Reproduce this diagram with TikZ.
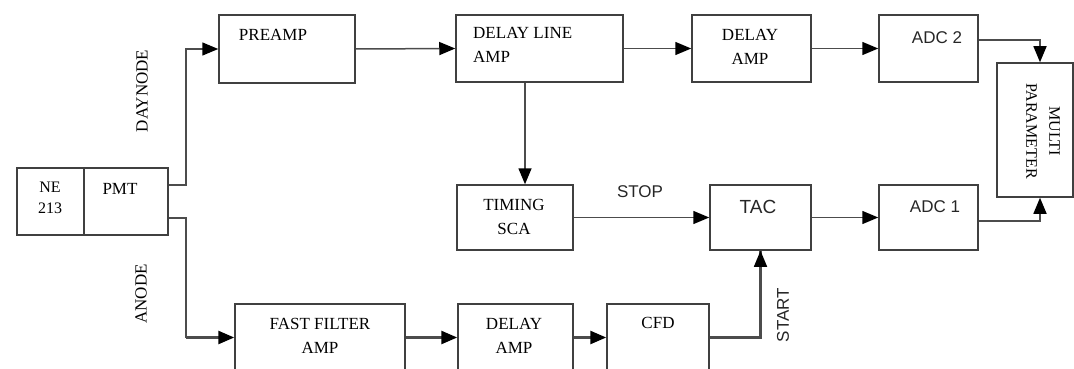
\documentclass[tikz,border=0pt]{standalone}
\usepackage{fontspec}
\setmainfont{Liberation Serif}
\setsansfont{Liberation Sans}
\usetikzlibrary{arrows.meta}
\begin{document}
\begin{tikzpicture}[x=1pt,y=-1pt,
  box/.style={draw=black!75, line width=1.5pt, rectangle, inner sep=0pt, minimum height=67pt},
  lbl/.style={text=black, inner sep=0pt, font=\fontsize{17}{24}\selectfont},
  slbl/.style={text=black!85, inner sep=0pt, font=\sffamily\fontsize{17}{24}\selectfont},
  wire/.style={draw=black!70, line width=1.5pt},
  thick wire/.style={draw=black!70, line width=2.6pt},
  arr/.style={-{Triangle[length=16pt,width=13pt,color=black]}}
]
\useasboundingbox (0,0) rectangle (1074,369);
\clip (0,0) rectangle (1074,369);

% boxes
\node[box, minimum width=67pt] (ne) at (50.5,201.5) {};
\node[box, minimum width=84pt] (pmt) at (126,201.5) {};
\node[box, minimum width=136pt, minimum height=68pt] (preamp) at (287,49) {};
\node[box, minimum width=167pt] (dla) at (539.5,48.5) {};
\node[box, minimum width=119pt] (damp) at (751.5,48.5) {};
\node[box, minimum width=99pt] (adctwo) at (928.5,48.5) {};
\node[box, minimum width=76pt, minimum height=134pt] (multi) at (1035,130) {};
\node[box, minimum width=116pt, minimum height=65pt] (sca) at (515,217.5) {};
\node[box, minimum width=101pt, minimum height=65pt] (tac) at (760.5,217.5) {};
\node[box, minimum width=99pt, minimum height=65pt] (adcone) at (928.5,217.5) {};
\node[box, minimum width=170pt] (ffa) at (320,337.5) {};
\node[box, minimum width=115pt] (damptwo) at (515.5,337.5) {};
\node[box, minimum width=102pt] (cfd) at (658,337.5) {};

% texts
\node[lbl, font=\fontsize{16}{21}\selectfont, align=center] (tne) at (50,198) {NE\\213};
\node[lbl] (tpmt) at (120,189) {PMT};
\node[lbl] (tpre) at (273,35) {PREAMP};
\node[lbl, align=left, anchor=west] (tdla) at (473,45) {DELAY LINE\\AMP};
\node[lbl, align=center] (tdamp) at (750,47) {DELAY\\AMP};
\node[slbl] (tadctwo) at (937,38) {ADC 2};
\node[lbl, align=center, rotate=-90, font=\fontsize{16}{23}\selectfont] (tmulti) at (1043,131) {MULTI\\PARAMETER};
\node[lbl, align=center] (tsca) at (514,217) {TIMING\\SCA};
\node[slbl] (tstop) at (640,192) {STOP};
\node[slbl, font=\sffamily\fontsize{19}{24}\selectfont] (ttac) at (758,207) {TAC};
\node[slbl] (tadcone) at (935,207) {ADC 1};
\node[lbl, align=center] (tffa) at (320,336) {FAST FILTER\\AMP};
\node[lbl, align=center] (tdamptwo) at (514,336) {DELAY\\AMP};
\node[lbl] (tcfd) at (658,323) {CFD};
\node[slbl, rotate=90] (tstart) at (783,315) {START};
\node[lbl, rotate=90] (tdyn) at (142,91) {DAYNODE};
\node[lbl, rotate=90] (tano) at (141,294) {ANODE};

% connectors
\draw[wire, arr] ([yshift=16.5pt]pmt.east) -- ++(17,0) |- (preamp.west);
\draw[wire] ([yshift=-16.5pt]pmt.east) -- ++(17,0) coordinate (pl) -- (pl |- ffa.west);
\draw[thick wire, arr] (pl |- ffa.west) -- (ffa.west);
\draw[wire, arr] (preamp.east) -- (dla.west);
\draw[wire, arr] (dla.east) -- (damp.west);
\draw[wire, arr] (damp.east) -- (adctwo.west);
\draw[wire, arr] ([yshift=8.5pt]adctwo.east) -| ([xshift=5pt]multi.north);
\draw[wire, arr] ([xshift=-14.5pt]dla.south) -- ([xshift=-14.5pt]dla.south |- sca.north);
\draw[wire, arr] (sca.east) -- (tac.west);
\draw[wire, arr] (tac.east) -- (adcone.west);
\draw[wire, arr] ([yshift=-3.5pt]adcone.east) -| ([xshift=5pt]multi.south);
\draw[thick wire, arr] (ffa.east) -- (damptwo.west);
\draw[thick wire, arr] (damptwo.east) -- (cfd.west);
\draw[thick wire] (cfd.east) -| (tac.south);
\draw[wire, arr] (cfd.east -| tac.south) -- (tac.south);
\end{tikzpicture}
\end{document}
